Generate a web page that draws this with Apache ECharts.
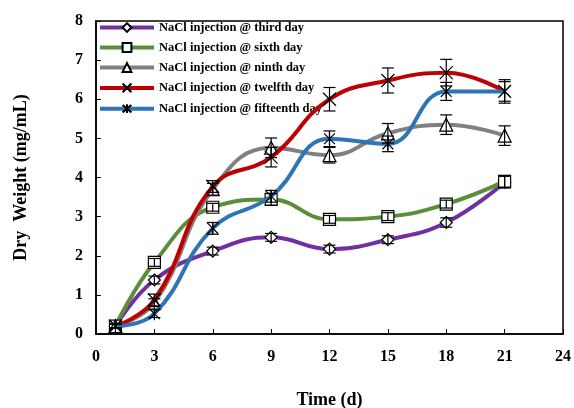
<!DOCTYPE html>
<html>
<head>
<meta charset="utf-8">
<script src="https://cdn.jsdelivr.net/npm/echarts@6/dist/echarts.min.js"></script>
<style>
  html, body { margin: 0; padding: 0; background: #fff; }
  #main { width: 574px; height: 408px; }
</style>
</head>
<body>
<div id="main"></div>
<script>
  var myChart = echarts.init(document.getElementById('main'));

  // sampling days
  var days = [1, 3, 6, 9, 12, 15, 18, 21];
  var names = ['NaCl injection @ third day', 'NaCl injection @ sixth day',
    'NaCl injection @ ninth day', 'NaCl injection @ twelfth day',
    'NaCl injection @ fifteenth day'];

  var third     = [0.2, 1.38, 2.12, 2.47, 2.17, 2.41, 2.85, 3.88];
  var sixth     = [0.2, 1.83, 3.24, 3.44, 2.93, 3.0, 3.32, 3.9];
  var ninth     = [0.2, 0.8, 3.7, 4.76, 4.57, 5.13, 5.35, 5.07];
  var twelfth   = [0.2, 0.87, 3.77, 4.52, 6.0, 6.48, 6.68, 6.2];
  var fifteenth = [0.2, 0.52, 2.7, 3.52, 4.99, 4.86, 6.2, 6.2];

  // error bar half-widths
  var errThird     = [0.05, 0.1, 0.1, 0.1, 0.1, 0.1, 0.12, 0.15];
  var errSixth     = [0.05, 0.1, 0.1, 0.15, 0.1, 0.1, 0.1, 0.15];
  var errNinth     = [0.05, 0.1, 0.15, 0.25, 0.2, 0.25, 0.25, 0.25];
  var errTwelfth   = [0.05, 0.15, 0.15, 0.25, 0.3, 0.32, 0.34, 0.3];
  var errFifteenth = [0.05, 0.1, 0.15, 0.15, 0.2, 0.2, 0.23, 0.25];

  var xTicks = [0, 3, 6, 9, 12, 15, 18, 21, 24];
  var yTicks = [0, 1, 2, 3, 4, 5, 6, 7, 8];

  var colors = ['#7030A0', '#5B8E3A', '#808080', '#C00000', '#2E75B6'];
  var symbols = ['diamond', 'rect', 'triangle',
    'path://M0,0L10,10M10,0L0,10',
    'path://M0,0L10,10M10,0L0,10M5,-1L5,11'];
  var sizes = [12, 12, 13, 13, 13];
  var vals = [third, sixth, ninth, twelfth, fifteenth];
  var errs = [errThird, errSixth, errNinth, errTwelfth, errFifteenth];

  var font = 'Liberation Serif, Times New Roman, serif';
  var series = [];

  for (var s = 0; s < 5; s++) {
    var pts = [];
    for (var i = 0; i < days.length; i++) pts.push([days[i], vals[s][i]]);
    var isPath = symbols[s].indexOf('path://') === 0;
    series.push({
      name: names[s],
      type: 'line',
      data: pts,
      smooth: 0.45,
      symbol: symbols[s],
      symbolSize: sizes[s],
      symbolKeepAspect: true,
      lineStyle: { color: colors[s], width: 4 },
      itemStyle: {
        color: isPath ? 'none' : '#fff',
        borderColor: '#000',
        borderWidth: 1.2
      },
      z: 2 + s
    });
  }

  // error bars
  var ebData = [];
  for (var s2 = 0; s2 < 5; s2++) {
    for (var j = 0; j < days.length; j++) {
      ebData.push([days[j], vals[s2][j], errs[s2][j]]);
    }
  }
  series.push({
    type: 'custom',
    data: ebData,
    z: 20,
    silent: true,
    renderItem: function (params, api) {
      var x = api.value(0), y = api.value(1), e = api.value(2);
      var top = api.coord([x, y + e]);
      var bot = api.coord([x, y - e]);
      var w = 6;
      var st = { stroke: '#000', lineWidth: 1.2 };
      return {
        type: 'group',
        children: [
          { type: 'line', shape: { x1: top[0], y1: top[1], x2: bot[0], y2: bot[1] }, style: st },
          { type: 'line', shape: { x1: top[0] - w, y1: top[1], x2: top[0] + w, y2: top[1] }, style: st },
          { type: 'line', shape: { x1: bot[0] - w, y1: bot[1], x2: bot[0] + w, y2: bot[1] }, style: st }
        ]
      };
    }
  });

  myChart.setOption({
    animation: false,
    backgroundColor: '#fff',
    grid: {
      left: 96, right: 11, top: 21, bottom: 74,
      outerBoundsMode: 'none',
      containLabel: false,
      show: true, borderColor: '#000', borderWidth: 1.5
    },
    legend: {
      orient: 'vertical',
      left: 93, top: 16,
      itemWidth: 54, itemHeight: 11, itemGap: 7,
      data: names,
      lineStyle: { width: 4 },
      textStyle: { fontFamily: font, fontWeight: 'bold', fontSize: 12.5, color: '#000' }
    },
    xAxis: {
      type: 'value',
      min: xTicks[0], max: xTicks[xTicks.length - 1], interval: 3,
      name: 'Time (d)',
      nameLocation: 'middle',
      nameGap: 57,
      nameTextStyle: { fontFamily: font, fontWeight: 'bold', fontSize: 18, color: '#000' },
      axisLine: { lineStyle: { color: '#000', width: 1.5 } },
      axisTick: { inside: true, length: 5, lineStyle: { color: '#000' } },
      axisLabel: { margin: 15, fontFamily: font, fontWeight: 'bold', fontSize: 16, color: '#000' },
      splitLine: { show: false }
    },
    yAxis: {
      type: 'value',
      min: yTicks[0], max: yTicks[yTicks.length - 1], interval: 1,
      name: 'Dry  Weight (mg/mL)',
      nameLocation: 'middle',
      nameGap: 66,
      nameTextStyle: { fontFamily: font, fontWeight: 'bold', fontSize: 18, color: '#000' },
      axisLine: { lineStyle: { color: '#000', width: 1.5 } },
      axisTick: { inside: true, length: 5, lineStyle: { color: '#000' } },
      axisLabel: { margin: 13, fontFamily: font, fontWeight: 'bold', fontSize: 16, color: '#000' },
      splitLine: { show: false }
    },
    series: series
  });
</script>
</body>
</html>
